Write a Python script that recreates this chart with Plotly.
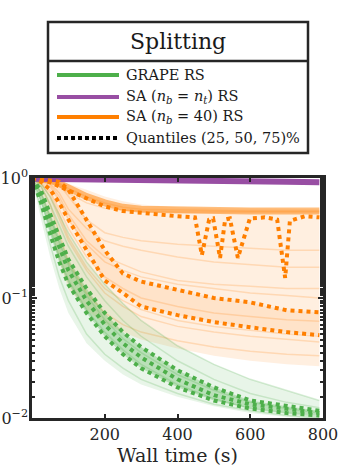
import plotly.graph_objects as go

# wall-time grid (s) used by the hand-read curves
t = [0, 25, 50, 75, 100, 150, 200, 250, 300, 400, 500, 600, 700, 790]

# GRAPE RS: envelope, quantiles and a few individual runs
grape_lo = [1, 0.45, 0.22, 0.12, 0.075, 0.042, 0.03, 0.023, 0.019, 0.015, 0.0125, 0.011, 0.0102, 0.0097]
grape_hi = [1, 0.9, 0.7, 0.5, 0.35, 0.2, 0.13, 0.09, 0.065, 0.04, 0.028, 0.021, 0.017, 0.014]
grape_q25 = [1, 0.62, 0.34, 0.2, 0.13, 0.075, 0.048, 0.034, 0.026, 0.018, 0.014, 0.012, 0.011, 0.0105]
grape_q50 = [1, 0.7, 0.42, 0.26, 0.17, 0.095, 0.06, 0.042, 0.032, 0.021, 0.0155, 0.013, 0.0118, 0.011]
grape_q75 = [1, 0.78, 0.5, 0.32, 0.21, 0.12, 0.075, 0.052, 0.039, 0.025, 0.018, 0.014, 0.0125, 0.0115]
grape_runs = [
    [1, 0.55, 0.28, 0.15, 0.095, 0.05, 0.034, 0.026, 0.021, 0.016, 0.013, 0.0115, 0.0105, 0.01],
    [1, 0.85, 0.6, 0.4, 0.27, 0.15, 0.095, 0.065, 0.048, 0.03, 0.021, 0.016, 0.0135, 0.0122],
    [1, 0.75, 0.47, 0.29, 0.19, 0.105, 0.066, 0.046, 0.035, 0.023, 0.017, 0.0135, 0.012, 0.011],
    [1, 0.9, 0.7, 0.5, 0.35, 0.2, 0.13, 0.09, 0.065, 0.04, 0.028, 0.021, 0.017, 0.014],
    [1, 0.65, 0.38, 0.22, 0.14, 0.08, 0.052, 0.037, 0.028, 0.019, 0.0145, 0.012, 0.011, 0.0103],
]

# SA (n_b = n_t) RS
t_sa_nt = [0, 100, 200, 300, 400, 500, 600, 700, 790]
sa_nt = [0.985, 0.98, 0.975, 0.97, 0.96, 0.95, 0.94, 0.93, 0.92]

# SA (n_b = 40) RS
sa40_lo = [1, 0.7, 0.4, 0.2, 0.12, 0.08, 0.06, 0.052, 0.045, 0.038, 0.033, 0.03, 0.028, 0.027]
sa40_hi = [1, 0.995, 0.98, 0.95, 0.9, 0.8, 0.7, 0.64, 0.6, 0.57, 0.56, 0.56, 0.555, 0.55]
sa40_q25 = [1, 0.93, 0.8, 0.62, 0.45, 0.25, 0.14, 0.11, 0.085, 0.072, 0.063, 0.057, 0.052, 0.049]
sa40_q50 = [1, 0.98, 0.95, 0.93, 0.8, 0.45, 0.25, 0.16, 0.137, 0.117, 0.1, 0.092, 0.079, 0.076]
t_q75 = [0, 25, 50, 75, 100, 150, 200, 250, 300, 350, 400, 448, 467, 487, 498, 517,
         531, 544, 566, 599, 640, 674, 696, 709, 750, 790]
sa40_q75 = [1, 0.97, 0.92, 0.85, 0.78, 0.67, 0.58, 0.53, 0.51, 0.5, 0.48, 0.47, 0.228, 0.45,
            0.46, 0.216, 0.45, 0.46, 0.216, 0.46, 0.47, 0.45, 0.147, 0.44, 0.48, 0.47]
sa40_runs = [
    [1, 0.99, 0.96, 0.9, 0.82, 0.7, 0.62, 0.57, 0.55, 0.54, 0.535, 0.53, 0.53, 0.53],
    [1, 0.98, 0.93, 0.85, 0.75, 0.62, 0.56, 0.54, 0.53, 0.52, 0.52, 0.52, 0.52, 0.52],
    [1, 0.97, 0.9, 0.75, 0.55, 0.38, 0.3, 0.27, 0.25, 0.22, 0.2, 0.19, 0.18, 0.18],
    [1, 0.95, 0.85, 0.65, 0.45, 0.28, 0.2, 0.17, 0.15, 0.13, 0.12, 0.11, 0.105, 0.1],
    [1, 0.93, 0.78, 0.55, 0.38, 0.22, 0.15, 0.12, 0.1, 0.085, 0.075, 0.07, 0.066, 0.064],
    [1, 0.9, 0.7, 0.45, 0.3, 0.17, 0.11, 0.085, 0.07, 0.058, 0.052, 0.048, 0.045, 0.043],
    [1, 0.85, 0.6, 0.35, 0.2, 0.11, 0.075, 0.06, 0.052, 0.044, 0.039, 0.036, 0.034, 0.033],
    [1, 0.98, 0.95, 0.88, 0.7, 0.45, 0.35, 0.32, 0.3, 0.28, 0.27, 0.26, 0.25, 0.25],
    [1, 0.96, 0.88, 0.7, 0.5, 0.3, 0.22, 0.19, 0.165, 0.14, 0.13, 0.125, 0.12, 0.12],
    [1, 0.9, 0.75, 0.5, 0.32, 0.18, 0.12, 0.095, 0.08, 0.065, 0.058, 0.054, 0.05, 0.048],
]

x_ticks = [200, 400, 600, 800]
y_ticks = [0.01, 0.1, 1]
y_ticktext = ["10<sup>−2</sup>", "10<sup>−1</sup>", "10<sup>0</sup>"]

GREEN = "#4daf4a"
PURPLE = "#984ea3"
ORANGE = "#ff7f00"
FONT = "DejaVu Serif, serif"

# plot area in page pixels
PX0, PX1, PY0, PY1 = 32, 323, 178, 418


def px(x):
    return (x - PX0) / (PX1 - PX0)


def py(y):
    return (PY1 - y) / (PY1 - PY0)


def band(x, lo, hi, rgba):
    return [
        go.Scatter(x=x, y=lo, mode="lines", line=dict(width=0), hoverinfo="skip"),
        go.Scatter(x=x, y=hi, mode="lines", line=dict(width=0), fill="tonexty",
                   fillcolor=rgba, hoverinfo="skip"),
    ]


fig = go.Figure()

# orange cloud
for tr in band(t, sa40_lo, sa40_hi, "rgba(255,127,0,0.12)"):
    fig.add_trace(tr)
for tr in band(t, sa40_q25, sa40_q50, "rgba(255,127,0,0.10)"):
    fig.add_trace(tr)
for run in sa40_runs:
    fig.add_trace(go.Scatter(x=t, y=run, mode="lines", hoverinfo="skip",
                             line=dict(color="rgba(255,127,0,0.2)", width=1.5)))
fig.add_trace(go.Scatter(x=t, y=sa40_runs[0], mode="lines",
                         line=dict(color="rgba(255,127,0,0.5)", width=7)))

# green cloud
for tr in band(t, grape_lo, grape_hi, "rgba(77,175,74,0.13)"):
    fig.add_trace(tr)
for tr in band(t, grape_q25, grape_q75, "rgba(77,175,74,0.3)"):
    fig.add_trace(tr)
for run in grape_runs:
    fig.add_trace(go.Scatter(x=t, y=run, mode="lines", hoverinfo="skip",
                             line=dict(color="rgba(77,175,74,0.22)", width=1.5)))

# purple
fig.add_trace(go.Scatter(x=t_sa_nt, y=sa_nt, mode="lines", line=dict(color=PURPLE, width=6)))

# quantiles
for q in (grape_q25, grape_q50, grape_q75):
    fig.add_trace(go.Scatter(x=t, y=q, mode="lines", line=dict(color=GREEN, width=4, dash="4px,4px")))
for q in (sa40_q25, sa40_q50):
    fig.add_trace(go.Scatter(x=t, y=q, mode="lines", line=dict(color=ORANGE, width=4, dash="4px,4px")))
fig.add_trace(go.Scatter(x=t_q75, y=sa40_q75, mode="lines",
                         line=dict(color=ORANGE, width=4, dash="4px,4px")))

axis_common = dict(showline=True, linecolor="#262626", linewidth=2.5, mirror="allticks",
                   ticks="inside", tickcolor="#262626", tickwidth=2, showgrid=False,
                   zeroline=False, automargin=False,
                   tickfont=dict(family=FONT, size=16, color="#262626"))

fig.update_xaxes(range=[0, 800], tickvals=x_ticks, ticklen=4,
                 title=dict(text="Wall time (s)", font=dict(family=FONT, size=19, color="#262626"),
                            standoff=4),
                 **axis_common)
fig.update_yaxes(type="log", range=[-2, 0], tickvals=y_ticks, ticktext=y_ticktext, ticklen=5,
                 ticklabelstandoff=-2,
                 minor=dict(ticks="inside", ticklen=3, tickwidth=1.5, tickcolor="#262626", showgrid=False),
                 **axis_common)

# legend box drawn by hand (page pixel positions)
shapes = [
    dict(type="rect", xref="paper", yref="paper", x0=px(48), x1=px(308),
         y0=py(153), y1=py(22), line=dict(color="#262626", width=2.5), fillcolor="white"),
    dict(type="line", xref="paper", yref="paper", x0=px(48), x1=px(308),
         y0=py(61), y1=py(61), line=dict(color="#262626", width=2.5)),
]
entries = [
    (GREEN, "solid", "GRAPE RS", 75),
    (PURPLE, "solid", "SA (<i>n</i><sub><i>b</i></sub> = <i>n</i><sub><i>t</i></sub>) RS", 97),
    (ORANGE, "solid", "SA (<i>n</i><sub><i>b</i></sub> = 40) RS", 117),
    ("black", "dot", "Quantiles (25, 50, 75)%", 138),
]
annotations = [
    dict(text="Splitting", xref="paper", yref="paper", x=px(178), y=py(41),
         showarrow=False, xanchor="center", yanchor="middle",
         font=dict(family=FONT, size=22, color="#1a1a1a")),
]
for color, dash, label, yc in entries:
    shapes.append(dict(type="line", xref="paper", yref="paper", x0=px(57), x1=px(119),
                       y0=py(yc), y1=py(yc),
                       line=dict(color=color, width=4, dash="4px,3px" if dash == "dot" else "solid")))
    annotations.append(dict(text=label, xref="paper", yref="paper", x=px(124), y=py(yc),
                            showarrow=False, xanchor="left", yanchor="middle",
                            font=dict(family=FONT, size=14.5, color="#1a1a1a")))

fig.update_layout(width=360, height=469,
                  margin=dict(l=PX0, r=360 - PX1, t=PY0, b=469 - PY1),
                  paper_bgcolor="white", plot_bgcolor="white", showlegend=False,
                  shapes=shapes, annotations=annotations)

# drop the default page margin so the figure fills the window
fig.write_html("out.html", config={"displayModeBar": False},
               post_script="document.body.style.margin='0';")
